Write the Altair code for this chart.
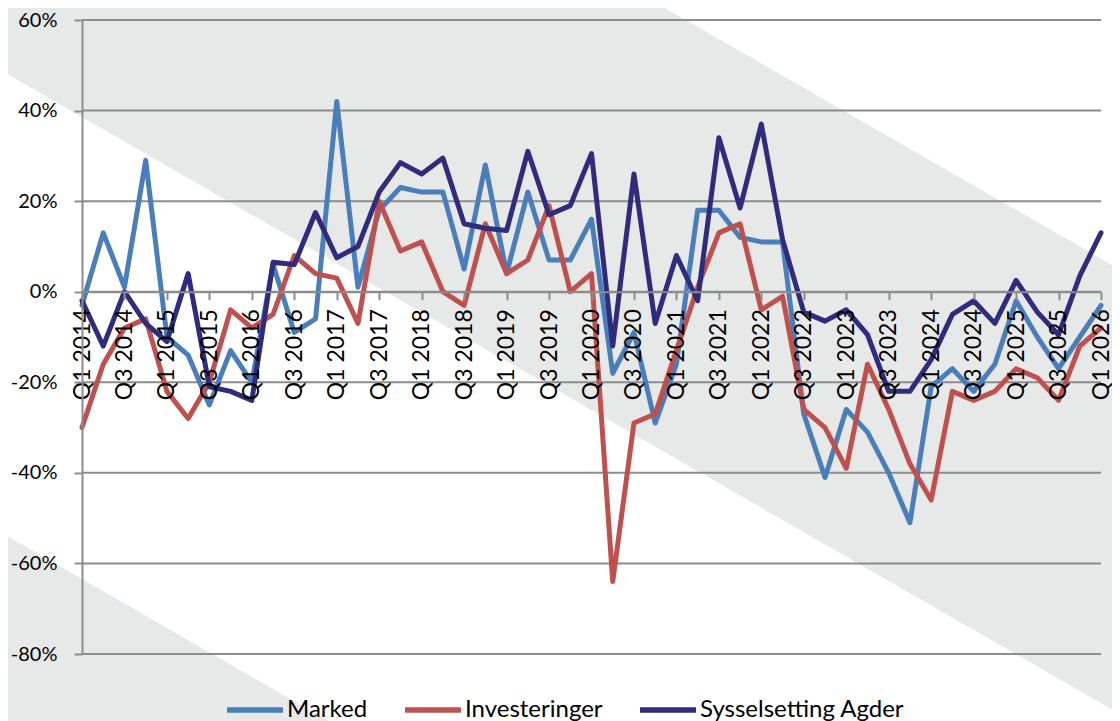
import altair as alt
import pandas as pd

# ---------------- data ----------------
quarters = [f"Q{q} {y}" for y in range(2014, 2026) for q in (1, 2, 3, 4)] + ["Q1 2026"]

marked = [-3, 13, 1, 29, -10, -14, -25, -13, -20, 6, -9, -6, 42, 1, 18, 23, 22, 22, 5, 28,
          4, 22, 7, 7, 16, -18, -9, -29, -16, 18, 18, 12, 11, 11, -27, -41, -26, -31, -40, -51,
          -21, -17, -22, -16, -2, -10, -17, -10, -3]
investeringer = [-30, -16, -8, -6, -22, -28, -20, -4, -8, -5, 8, 4, 3, -7, 20, 9, 11, 0, -3, 15,
                 4, 7, 19, 0, 4, -64, -29, -27, -13, 1, 13, 15, -4, -1, -26, -30, -39, -16, -26, -38,
                 -46, -22, -24, -22, -17, -19, -24, -12, -8]
sysselsetting = [-2, -12, 0, -7, -11, 4, -21, -22, -24, 6.5, 6, 17.5, 7.5, 10, 22, 28.5, 26, 29.5, 15, 14,
                 13.5, 31, 17, 19, 30.5, -12, 26, -7, 8, -2, 34, 18.5, 37, 11.5, -4.5, -6.5, -4, -9.5, -22, -22,
                 -15, -5, -2, -7, 2.5, -4.5, -9.5, 3.5, 13]

series_names = ["Marked", "Investeringer", "Sysselsetting Agder"]
series_colors = ["#4a7ebb", "#c0504d", "#2f2b7d"]
y_ticks = [-80, -60, -40, -20, 0, 20, 40, 60]

rows = []
for name, vals in zip(series_names, [marked, investeringer, sysselsetting]):
    for q, v in zip(quarters, vals):
        rows.append({"Kvartal": q, "Serie": name, "Verdi": v})
df = pd.DataFrame(rows)

# ---------------- layout ----------------
W, H = 1019, 634
OX, OY = 82, 20          # page position of plot origin
SLOPE = 0.575
GRID = "#8c8c8c"
BAND = "#e7e8e8"
FONT = "Lato"

# decorative diagonal background bands (page px -> plot px)
bx = [0, 651, 1120]
top_band = pd.DataFrame({
    "band": "a",
    "px": [x - OX for x in bx],
    "top": [max(0, SLOPE * (x - 651)) - OY for x in bx],
    "bot": [70 + SLOPE * x - OY for x in bx],
})
bx2 = [0, 330]
low_band = pd.DataFrame({
    "band": "b",
    "px": [x - OX for x in bx2],
    "top": [532 + SLOPE * x - OY for x in bx2],
    "bot": [760 - OY for x in bx2],
})
bands = pd.concat([top_band, low_band])

bg = alt.Chart(bands).mark_area(color=BAND, clip=False).encode(
    x=alt.X("px:Q", scale=None, axis=None),
    y=alt.Y("top:Q", scale=None, axis=None),
    y2="bot:Q",
    detail="band:N",
)

y_scale = alt.Scale(domain=[-80, 60], nice=False, zero=False)
y_axis = alt.Axis(
    values=y_ticks, labelExpr="datum.value + '%'", title=None, grid=False,
    domainColor=GRID, domainWidth=2, tickColor=GRID, tickWidth=2, tickSize=8,
    labelPadding=17, labelFontSize=20, labelFont=FONT, labelColor="black", zindex=1,
)

x_axis = alt.Axis(
    values=quarters[::2], labelAngle=270, labelFontSize=23, labelFont=FONT,
    labelColor="black", tickSize=8, tickColor=GRID, tickWidth=2,
    domainColor=GRID, domainWidth=2, labelPadding=9, title=None,
    offset=-(80 / 140 * H), grid=False, labelOverlap=False, zindex=1,
)

grid = alt.Chart(pd.DataFrame({"g": y_ticks})).mark_rule(color=GRID, strokeWidth=2).encode(
    y=alt.Y("g:Q", scale=y_scale, axis=y_axis)
)

color = alt.Color(
    "Serie:N",
    scale=alt.Scale(domain=series_names, range=series_colors),
    legend=alt.Legend(
        orient="none", legendX=142, legendY=659, direction="horizontal", title=None,
        symbolType="stroke", symbolSize=3136, symbolStrokeWidth=5.5,
        labelFontSize=24, labelFont=FONT, labelColor="black", labelLimit=500,
        columnPadding=26, labelOffset=1,
    ),
)

lines = [
    alt.Chart(df).transform_filter(alt.datum.Serie == s).mark_line(
        strokeWidth=5, strokeJoin="round", strokeCap="round"
    ).encode(
        x=alt.X("Kvartal:O", sort=quarters, scale=alt.Scale(type="point", padding=0), axis=x_axis),
        y=alt.Y("Verdi:Q", scale=y_scale, axis=y_axis),
        color=color,
    )
    for s in series_names
]

main = alt.layer(grid, *lines)

chart = alt.layer(bg, main).resolve_scale(x="independent", y="independent").properties(
    width=W, height=H,
    autosize=alt.AutoSizeParams(type="none"),
    padding={"left": 74, "top": 12, "right": 11, "bottom": 70},
    background="white",
).configure_view(stroke=None)

chart.save("out.html", embed_options={"renderer": "svg", "actions": False})
